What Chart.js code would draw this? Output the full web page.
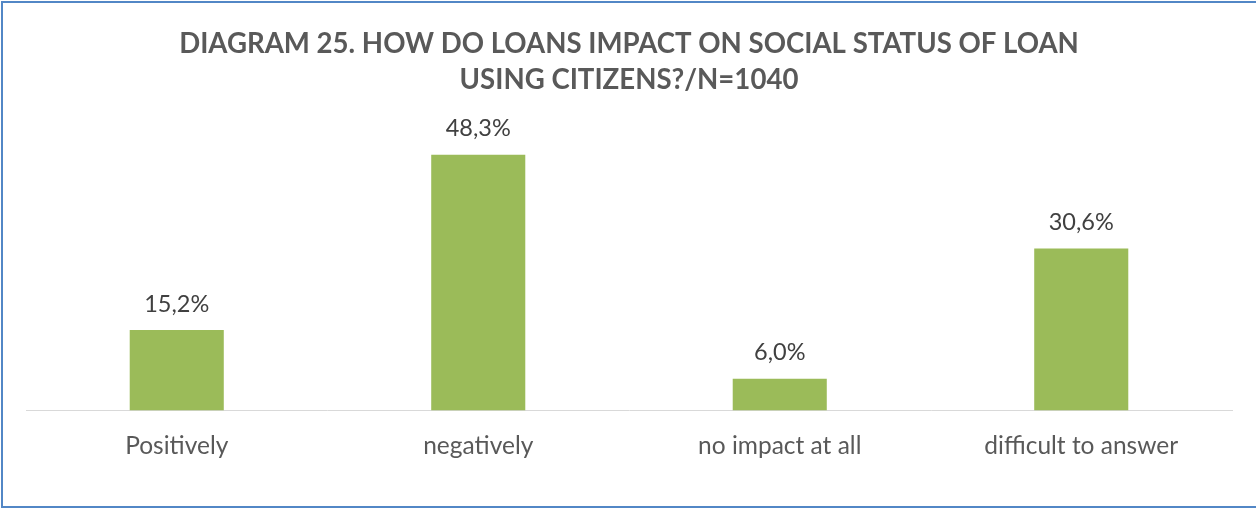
<!DOCTYPE html>
<html>
<head>
<meta charset="utf-8">
<title>Diagram 25</title>
<script src="https://cdn.jsdelivr.net/npm/chart.js@4/dist/chart.umd.min.js"></script>
<style>
    html, body { margin: 0; padding: 0; background: #fff; }
    #wrap { position: relative; width: 1256px; height: 508px; overflow: hidden; }
    #chart { position: absolute; left: 0; top: 0; }
    /* frame around the chart, open on the right */
    #frame {
        position: absolute; left: 1px; top: 1px; width: 1300px; height: 503px;
        border: 2px solid #5287c6; border-right: none; pointer-events: none;
    }
</style>
</head>
<body>
<div id="wrap">
    <canvas id="chart" width="1256" height="508"></canvas>
    <div id="frame"></div>
</div>
<script>
// Survey answers, share of respondents in %
const categories = ['Positively', 'negatively', 'no impact at all', 'difficult to answer'];
const shares = [15.2, 48.3, 6.0, 30.6];
const shareLabels = ['15,2%', '48,3%', '6,0%', '30,6%'];
const titleLines = ['DIAGRAM 25. HOW DO LOANS IMPACT ON SOCIAL STATUS OF LOAN', 'USING CITIZENS?/N=1040'];

// Writes the percentage above each bar
const valueLabels = {
    id: 'valueLabels',
    afterDatasetsDraw: function(chart) {
        const ctx = chart.ctx;
        const meta = chart.getDatasetMeta(0);
        ctx.save();
        ctx.font = '23.5px Lato';
        ctx.fillStyle = '#404040';
        ctx.textAlign = 'center';
        ctx.textBaseline = 'alphabetic';
        meta.data.forEach(function(bar, i) {
            ctx.fillText(shareLabels[i], bar.x, bar.y - 18.5);
        });
        ctx.restore();
    }
};

new Chart(document.getElementById('chart'), {
    type: 'bar',
    data: {
        labels: categories,
        datasets: [{
            data: shares,
            backgroundColor: '#9bbb59',
            borderWidth: 0,
            categoryPercentage: 1,
            barPercentage: 0.312
        }]
    },
    options: {
        responsive: false,
        animation: false,
        devicePixelRatio: 1,
        layout: { padding: { left: 26, right: 24, top: 0, bottom: 26 } },
        plugins: {
            legend: { display: false },
            tooltip: { enabled: false },
            title: {
                display: true,
                text: titleLines,
                color: '#595959',
                font: { family: 'Lato', size: 27.6, weight: 'bold', lineHeight: 1.3 },
                padding: { top: 26, bottom: 48 }
            }
        },
        scales: {
            x: {
                grid: { display: false, drawTicks: false },
                border: { display: true, color: '#d9d9d9', width: 1 },
                ticks: {
                    color: '#595959',
                    font: { family: 'Lato', size: 24.5 },
                    padding: 21,
                    maxRotation: 0
                }
            },
            y: {
                display: false,
                min: 0,
                max: 50
            }
        }
    },
    plugins: [valueLabels]
});
</script>
</body>
</html>
